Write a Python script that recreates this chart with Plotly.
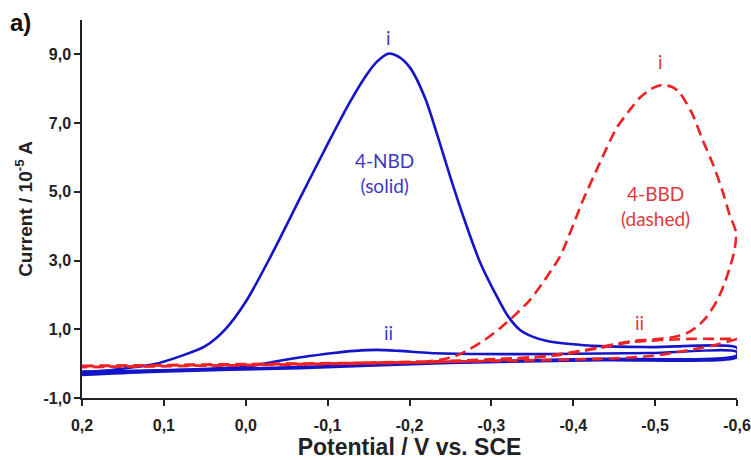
import plotly.graph_objects as go

# ---- data (potential in V vs SCE, current in 1e-5 A) ----
nbd_i_fwd_x = [0.2, 0.166, 0.135, 0.111, 0.083, 0.05, 0.025, 0.0, -0.03, -0.066, -0.097, -0.127,
               -0.146, -0.16, -0.174, -0.186, -0.201, -0.219, -0.234, -0.249, -0.265, -0.286, -0.307, -0.32,
               -0.335, -0.351, -0.368, -0.396, -0.433, -0.494, -0.6]
nbd_i_fwd_y = [-0.24, -0.19, -0.1, -0.01, 0.19, 0.5, 1.0, 1.8, 3.1, 4.8, 6.25, 7.6,
               8.35, 8.78, 9.02, 8.94, 8.6, 7.73, 6.65, 5.49, 4.33, 2.96, 1.94, 1.39,
               0.98, 0.78, 0.66, 0.57, 0.51, 0.48, 0.46]
nbd_i_rev_x = [-0.6, -0.433, -0.249, -0.066, 0.117, 0.2]
nbd_i_rev_y = [0.25, 0.14, 0.05, -0.1, -0.21, -0.3]

nbd_ii_fwd_x = [0.2, 0.056, -0.005, -0.045, -0.078, -0.107, -0.133, -0.16, -0.188, -0.225, -0.286, -0.372, -0.494, -0.6]
nbd_ii_fwd_y = [-0.24, -0.16, -0.07, 0.1, 0.22, 0.31, 0.37, 0.4, 0.37, 0.31, 0.28, 0.28, 0.31, 0.34]
nbd_ii_rev_x = [-0.6, -0.433, -0.249, -0.066, 0.117, 0.2]
nbd_ii_rev_y = [0.19, 0.1, 0.02, -0.13, -0.24, -0.33]

bbd_i_fwd_x = [0.2, -0.005, -0.127, -0.213, -0.237, -0.256, -0.274, -0.292, -0.311, -0.329, -0.347, -0.365,
               -0.384, -0.412, -0.433, -0.453, -0.469, -0.481, -0.495, -0.508, -0.521, -0.53, -0.545,
               -0.558, -0.571, -0.583, -0.591, -0.599]
bbd_i_fwd_y = [-0.07, -0.01, 0.02, 0.05, 0.11, 0.22, 0.43, 0.69, 1.04, 1.42, 1.85, 2.43,
               3.13, 4.76, 5.87, 6.86, 7.38, 7.73, 7.99, 8.11, 8.05, 7.88, 7.29,
               6.51, 5.78, 4.97, 4.33, 3.8]
bbd_i_rev_x = [-0.596, -0.591, -0.584, -0.576, -0.563, -0.551, -0.539, -0.524, -0.506, -0.488, -0.473,
               -0.451, -0.433, -0.408, -0.384, -0.351, -0.311, -0.249, -0.127, -0.005, 0.2]
bbd_i_rev_y = [3.2, 2.78, 2.29, 1.85, 1.36, 1.07, 0.89, 0.78, 0.72, 0.69, 0.66,
               0.57, 0.48, 0.37, 0.28, 0.19, 0.14, 0.08, 0.02, -0.04, -0.1]

bbd_ii_fwd_x = [0.2, -0.066, -0.311, -0.433, -0.494, -0.543, -0.573, -0.6]
bbd_ii_fwd_y = [-0.07, -0.01, 0.08, 0.14, 0.22, 0.4, 0.54, 0.72]
bbd_ii_rev_x = [-0.6, -0.579, -0.543, -0.473, -0.433, -0.384, -0.311, -0.188, 0.2]
bbd_ii_rev_y = [0.72, 0.72, 0.72, 0.63, 0.46, 0.25, 0.11, 0.02, -0.1]

x_ticks = [0.2, 0.1, 0.0, -0.1, -0.2, -0.3, -0.4, -0.5, -0.6]
x_tick_labels = ["0,2", "0,1", "0,0", "-0,1", "-0,2", "-0,3", "-0,4", "-0,5", "-0,6"]
y_ticks = [-1, 1, 3, 5, 7, 9]
y_tick_labels = ["-1,0", "1,0", "3,0", "5,0", "7,0", "9,0"]

BLUE = "#1414C8"
RED = "#EE2222"
BLUE_TXT = "#3A3AC0"
RED_TXT = "#E0383C"

fig = go.Figure()
for xs, ys in [(nbd_i_fwd_x + nbd_i_rev_x, nbd_i_fwd_y + nbd_i_rev_y),
               (nbd_ii_fwd_x + nbd_ii_rev_x, nbd_ii_fwd_y + nbd_ii_rev_y)]:
    fig.add_trace(go.Scatter(x=xs, y=ys, mode="lines",
                             line=dict(color=BLUE, width=2.6, shape="spline", smoothing=0.8),
                             showlegend=False, hoverinfo="skip"))
for xs, ys in [(bbd_i_fwd_x + bbd_i_rev_x, bbd_i_fwd_y + bbd_i_rev_y),
               (bbd_ii_fwd_x + bbd_ii_rev_x, bbd_ii_fwd_y + bbd_ii_rev_y)]:
    fig.add_trace(go.Scatter(x=xs, y=ys, mode="lines",
                             line=dict(color=RED, width=2.6, dash="11px,6px", shape="spline", smoothing=0.7),
                             showlegend=False, hoverinfo="skip"))

labels = [
    ("i", -0.174, 9.5, BLUE_TXT),
    ("4-NBD<br>(solid)", -0.17, 5.55, BLUE_TXT),
    ("ii", -0.174, 0.9, BLUE_TXT),
    ("i", -0.507, 8.8, RED_TXT),
    ("4-BBD<br>(dashed)", -0.5, 4.6, RED_TXT),
    ("ii", -0.481, 1.2, RED_TXT),
]
for t, x, y, c in labels:
    fig.add_annotation(x=x, y=y, text=t, showarrow=False,
                       font=dict(family="Lato, Open Sans, sans-serif", size=19, color=c))

fig.add_annotation(xref="paper", yref="paper", x=-0.113, y=1.035, xanchor="left", yanchor="top",
                   text="<b>a)</b>", showarrow=False,
                   font=dict(family="Liberation Sans, Arial", size=24, color="#111"))

axis_font = dict(family="Liberation Sans, Arial", size=16, color="#222")
fig.update_xaxes(range=[0.2, -0.6], tickvals=x_ticks, ticktext=[f"<b>{t}</b>" for t in x_tick_labels],
                 showgrid=False, zeroline=False, showline=True, linecolor="#222", linewidth=1.5,
                 ticks="outside", ticklen=6, tickwidth=1.5, tickcolor="#222", tickfont=axis_font,
                 ticklabelstandoff=6, automargin=False,
                 title=dict(text="<b>Potential / V vs. SCE</b>",
                            font=dict(family="Liberation Sans, Arial", size=23, color="#222"), standoff=2))
fig.update_yaxes(range=[-1, 10], tickvals=y_ticks, ticktext=[f"<b>{t}</b>" for t in y_tick_labels],
                 showgrid=False, zeroline=False, showline=True, linecolor="#222", linewidth=1.5,
                 ticks="outside", ticklen=6, tickwidth=1.5, tickcolor="#222", tickfont=axis_font,
                 automargin=False,
                 title=dict(text="<b>Current / 10<sup>-5</sup> A</b>",
                            font=dict(family="Liberation Sans, Arial", size=19, color="#222"), standoff=6))

fig.update_layout(width=751, height=460, margin=dict(l=82, r=14, t=20, b=62),
                  plot_bgcolor="white", paper_bgcolor="white")

fig.write_html("out.html")
